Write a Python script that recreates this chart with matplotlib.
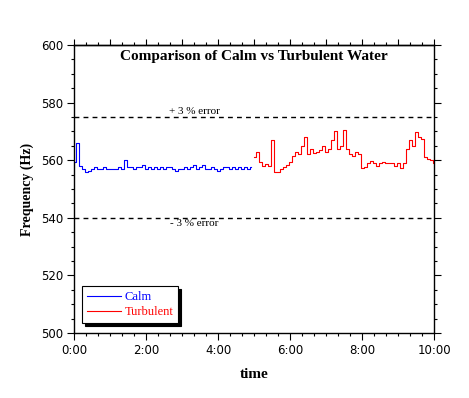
import numpy as np
from matplotlib import pyplot as plt
from matplotlib.ticker import MultipleLocator, FuncFormatter

# samples every 5 seconds, frequency in Hz
calm_freq = [559.5, 566.0, 558.0, 557.0, 556.0, 556.2, 557.0, 557.8, 557.0, 557.0,
             557.8, 557.0, 557.0, 557.0, 557.0, 557.8, 557.0, 560.0, 557.8, 557.8,
             557.0, 557.8, 557.8, 558.3, 557.0, 557.8, 557.0, 557.8, 557.0, 557.8,
             557.0, 557.8, 557.8, 557.0, 556.2, 557.0, 557.0, 557.8, 557.0, 557.8,
             558.3, 557.0, 557.8, 558.3, 557.0, 557.0, 557.8, 557.0, 556.2, 557.0,
             557.8, 557.8, 557.0, 557.8, 557.0, 557.8, 557.0, 557.8, 557.0, 557.8]
turb_freq = [561.2, 562.9, 559.5, 558.0, 558.6, 558.0, 567.0, 556.0, 556.0, 557.0,
             557.5, 558.5, 559.5, 561.5, 563.0, 562.0, 565.0, 568.0, 562.0, 564.0,
             562.5, 563.0, 563.5, 565.0, 563.0, 564.0, 567.0, 570.0, 564.0, 565.0,
             570.5, 564.0, 562.0, 561.5, 563.0, 562.0, 557.2, 557.5, 558.9, 559.8,
             558.9, 558.1, 558.9, 559.5, 558.9, 558.9, 558.9, 558.1, 558.9, 557.2,
             559.0, 564.0, 567.0, 565.0, 569.7, 568.0, 567.5, 561.0, 560.5, 560.0,
             558.9]
sample_sec = 5
calm_start_min = 0.0
turb_start_min = 5.0

upper_err = 575
lower_err = 540

calm_t = calm_start_min + np.arange(len(calm_freq)) * sample_sec / 60.0
turb_t = turb_start_min + np.arange(len(turb_freq)) * sample_sec / 60.0


def mmss(x, pos):
    m = int(round(x * 60)) // 60
    s = int(round(x * 60)) % 60
    return "{}:{:02d}".format(m, s)


fig = plt.figure(figsize=(4.69, 3.98), dpi=100)
ax = fig.add_axes([0.1578, 0.1633, 0.7676, 0.7236])

ax.plot(calm_t, calm_freq, '-', color='#0000ff', lw=0.8, drawstyle='steps-mid', label='Calm')
ax.plot(turb_t, turb_freq, '-', color='#ff0000', lw=0.8, drawstyle='steps-mid', label='Turbulent')

ax.axhline(upper_err, color='black', lw=1.0, dashes=(3.5, 3))
ax.axhline(lower_err, color='black', lw=1.0, dashes=(3.5, 3))
ax.text(3.35, upper_err + 0.4, '+ 3 % error', ha='center', va='bottom',
        family='Liberation Serif', fontsize=8)
ax.text(3.35, lower_err - 0.5, '- 3 % error', ha='center', va='top',
        family='Liberation Serif', fontsize=8)

ax.set_xlim(0, 10)
ax.set_ylim(500, 600)
ax.xaxis.set_major_locator(MultipleLocator(2))
ax.xaxis.set_minor_locator(MultipleLocator(1 / 3))
ax.xaxis.set_major_formatter(FuncFormatter(mmss))
ax.yaxis.set_major_locator(MultipleLocator(20))
ax.yaxis.set_minor_locator(MultipleLocator(5))
ax.tick_params(which='both', direction='out', width=0.8, colors='black',
               left=True, right=True, bottom=True, top=False,
               labelsize=8.5, pad=3)
ax.tick_params(which='major', length=5)
ax.tick_params(which='minor', length=2.5)
for lab in ax.get_xticklabels() + ax.get_yticklabels():
    lab.set_family('DejaVu Sans')

# top axis: ticks every minute, no labels
top = ax.secondary_xaxis('top')
top.xaxis.set_major_locator(MultipleLocator(1))
top.xaxis.set_minor_locator(MultipleLocator(1 / 3))
top.tick_params(which='major', direction='out', length=4.5, width=0.8, labeltop=False)
top.tick_params(which='minor', direction='out', length=2.5, width=0.8)

for sp in ax.spines.values():
    sp.set_linewidth(1.0)
top.spines['top'].set_linewidth(1.0)

ax.set_title('Comparison of Calm vs Turbulent Water', family='Liberation Serif',
             fontweight='bold', fontsize=11, y=0.92)
ax.set_ylabel('Frequency (Hz)', family='Liberation Serif', fontweight='bold',
              fontsize=10, labelpad=5)
ax.set_xlabel('time', family='Liberation Serif', fontweight='bold', fontsize=11,
              labelpad=8)

leg = ax.legend(loc='lower left', bbox_to_anchor=(0.022, 0.035), frameon=True,
                fancybox=False, shadow={'color': 'black', 'alpha': 1},
                edgecolor='black', framealpha=1, handlelength=2.7,
                borderpad=0.4, labelspacing=0.2, handletextpad=0.3,
                borderaxespad=0,
                prop={'family': 'Liberation Serif', 'size': 9})
leg.get_frame().set_linewidth(0.8)
for txt, c in zip(leg.get_texts(), ['#0000ff', '#ff0000']):
    txt.set_color(c)

fig.savefig('out.png', dpi=100)
